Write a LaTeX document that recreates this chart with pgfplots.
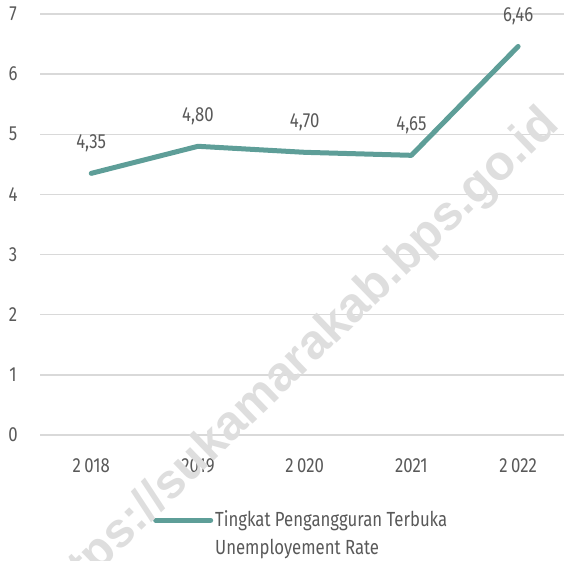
\documentclass[border=0pt]{standalone}
\usepackage{fontspec}
\setmainfont{Fira Sans}[FakeStretch=0.82]
\newfontfamily\wmfont{Liberation Sans}
\usepackage{pgfplots}
\pgfplotsset{compat=1.18}
\definecolor{txt}{HTML}{595959}
\definecolor{gridc}{HTML}{D9D9D9}
\definecolor{linec}{HTML}{5E9E98}
\definecolor{wm}{HTML}{DEDEDE}
\begin{document}
\begin{tikzpicture}[x=1bp,y=1bp]
\path[use as bounding box] (0,0) rectangle (564,561);
\begin{axis}[
  at={(40bp,126bp)}, anchor=south west,
  scale only axis, width=524bp, height=421bp,
  xmin=-0.48, xmax=4.43, ymin=0, ymax=7,
  axis line style={draw=none},
  major tick length=0pt,
  xtick={0,1,2,3,4},
  xticklabels={2\,018,2019,2\,020,2021,2\,022},
  ytick={0,1,2,3,4,5,6,7},
  ymajorgrids, grid style={gridc, line width=1.5bp},
  font=\fontsize{20.5}{24}\selectfont,
  every tick label/.append style={text=txt},
  /pgf/number format/assume math mode=true,
  yticklabel style={anchor=center, xshift=-27bp},
  xticklabel style={anchor=center, yshift=-31bp},
  clip=false,
  nodes near coords,
  nodes near coords style={text=txt, anchor=center, yshift=30bp, font=\fontsize{20.5}{24}\selectfont,
    /pgf/number format/.cd, use comma, fixed, fixed zerofill, precision=2, assume math mode=true},
  legend image code/.code={\draw[#1] (0bp,34bp) -- (55bp,34bp);},
  legend style={at={(axis description cs:0.2156,-0.174)}, anchor=north west, draw=none, fill=none,
    inner sep=0pt, font=\fontsize{20.5}{28}\selectfont, text=txt,
    cells={anchor=base west, align=left}},
]
\addplot[linec, line width=5bp, line cap=round, line join=round, mark=none]
  coordinates {(0,4.35) (1,4.80) (2,4.70) (3,4.65) (4,6.46)};
\addlegendentry{Tingkat Pengangguran Terbuka\\Unemployement Rate}
\end{axis}
\node[wm, font=\wmfont\bfseries\fontsize{49}{49}\selectfont, rotate=44, anchor=base east]
  at (563,437) {https://sukamarakab.bps.go.id};
\end{tikzpicture}
\end{document}
